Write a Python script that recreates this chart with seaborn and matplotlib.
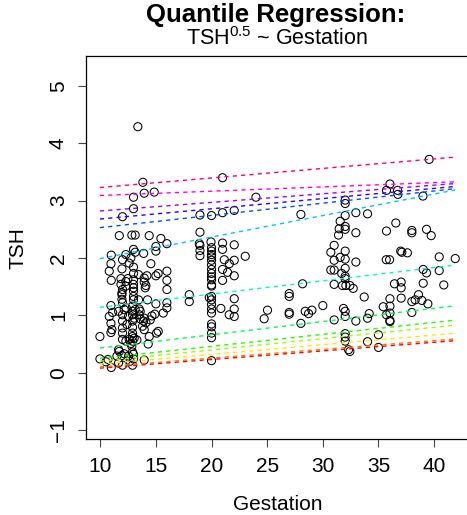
import numpy as np
import pandas as pd
import matplotlib
matplotlib.use("Agg")
import matplotlib.pyplot as plt
import matplotlib.colors as mcolors
import seaborn as sns

gest_early = [13.38, 13.83, 12.99, 13.95, 14.85, 12.99, 12.0, 11.71, 12.84, 13.14,
              14.4, 15.45, 15.99, 15.0, 15.0, 12.99, 10.99, 13.9,
              12.3, 12.0, 12.75, 12.6, 13.14,
              10.96, 10.81, 10.99, 11.95, 12.99, 12.99, 14.55, 15.0, 15.2, 15.99, 15.99, 15.99,
              11.86, 11.86, 12.0, 11.95, 11.95,
              12.99, 12.99, 12.99, 12.99, 12.99, 12.99,
              13.95, 13.95, 14.1, 14.04, 12.3, 12.3,
              14.25, 15.0, 15.99, 15.99, 15.66, 14.9,
              10.96, 11.11, 12.0, 12.15, 12.0,
              12.9, 12.9, 12.9, 13.05, 13.5, 13.5,
              13.95, 14.1, 13.8, 13.95,
              10.81, 10.96, 10.96,
              12.0, 12.0, 12.0, 12.9, 12.9, 12.9,
              14.49, 14.64, 15.06, 15.21, 14.4, 14.31, 9.97,
              12.0, 12.3, 12.6, 12.9, 12.9, 13.05, 12.75,
              11.71, 12.15, 12.9, 12.99,
              9.97, 10.51, 10.99, 12.0, 12.9, 13.95, 12.99,
              13.44, 14.19, 12.48, 11.95, 13.44, 11.65, 12.33, 13.14, 13.59,
              12.54, 13.59, 13.89, 12.4, 11.05, 13.29, 11.65, 12.84, 11.95, 11.5,
              10.69, 12.54, 12.69, 11.65]
tsh_early = [4.29, 3.32, 3.06, 3.13, 3.15, 2.86, 2.72, 2.39, 2.40, 2.40,
             2.39, 2.34, 2.25, 2.20, 2.12, 2.15, 2.05, 2.08,
             2.06, 1.97, 2.00, 1.91, 2.10,
             1.90, 1.77, 1.61, 1.81, 1.84, 1.73, 1.90, 1.69, 1.73, 1.77, 1.61, 1.45,
             1.64, 1.54, 1.45, 1.36, 1.28,
             1.62, 1.54, 1.48, 1.42, 1.33, 1.27,
             1.65, 1.58, 1.52, 1.48, 1.59, 1.51,
             1.27, 1.20, 1.22, 1.13, 1.04, 1.02,
             1.17, 1.05, 1.22, 1.10, 1.01,
             1.16, 1.07, 1.01, 0.95, 1.11, 1.01,
             0.95, 0.87, 0.81, 0.75,
             0.98, 0.86, 0.70,
             0.90, 0.78, 0.69, 0.90, 0.79, 0.69,
             0.92, 0.99, 0.69, 0.72, 0.63, 0.50, 0.63,
             0.58, 0.55, 0.58, 0.63, 0.55, 0.60, 0.51,
             0.37, 0.33, 0.36, 0.32,
             0.24, 0.19, 0.09, 0.13, 0.13, 0.22, 0.24,
             1.71, 1.69, 1.64, 1.39, 1.27, 1.07, 1.13, 1.10, 1.07,
             0.98, 0.94, 0.90, 0.84, 0.75, 0.57, 0.40, 0.46, 0.30, 0.29,
             0.23, 0.29, 0.20, 0.17]

gest_mid = [20.99, 23.99, 18.96, 20.0, 20.99, 22.04, 18.96, 18.9, 18.96, 19.95, 20.0,
            20.99, 20.99, 22.04,
            20.0, 20.0, 20.0, 20.0, 20.0, 20.0, 20.0, 20.0, 20.0, 20.0, 20.0,
            18.96, 18.96, 21.15, 21.6, 22.04, 23.03, 20.99, 21.44, 22.04, 20.99, 18.0, 18.0,
            20.0, 20.0, 20.0, 20.0, 20.0, 19.8, 22.04, 20.84, 22.04, 21.59, 22.04,
            25.03, 24.73,
            20.0, 20.0, 20.0, 20.0, 20.0]
tsh_mid = [3.40, 3.06, 2.75, 2.74, 2.79, 2.83, 2.45, 2.25, 2.22, 2.28, 2.18,
           2.26, 2.15, 2.23,
           2.12, 2.06, 2.02, 1.96, 1.88, 1.80, 1.73, 1.67, 1.62, 1.53, 1.51,
           2.13, 2.04, 1.97, 1.90, 1.96, 2.03, 1.80, 1.75, 1.69, 1.61, 1.36, 1.24,
           1.33, 1.27, 1.19, 1.11, 1.04, 1.31, 1.29, 1.12, 1.11, 1.01, 0.98,
           1.09, 0.94,
           0.85, 0.80, 0.69, 0.61, 0.21]

gest_late = [32.01, 32.01, 28.03, 32.01, 32.97, 34.02, 31.56, 32.01, 32.01, 31.47, 31.41,
             32.97, 31.02, 30.72, 32.01, 31.56, 31.02, 32.01, 32.97, 30.72, 31.02, 32.01,
             31.7, 32.01, 32.01, 31.02, 31.77, 32.07, 32.43, 32.73, 28.18, 26.98, 26.98,
             33.72, 26.98, 26.98, 28.42, 28.72, 29.02, 30.0, 31.86, 32.01, 32.01, 31.02,
             32.97, 34.17, 34.02, 28.03, 32.01, 32.01, 32.01, 34.02, 32.31, 32.43]
tsh_late = [3.01, 2.95, 2.76, 2.74, 2.79, 2.77, 2.64, 2.55, 2.50, 2.51, 2.40,
            2.44, 2.22, 2.10, 2.12, 2.01, 1.96, 1.98, 1.93, 1.79, 1.79, 1.82,
            1.73, 1.68, 1.64, 1.54, 1.52, 1.52, 1.52, 1.47, 1.55, 1.38, 1.33,
            1.32, 1.05, 1.02, 1.07, 1.03, 1.09, 1.17, 1.12, 1.07, 0.98, 0.92,
            0.90, 1.03, 0.95, 0.86, 0.68, 0.62, 0.55, 0.54, 0.40, 0.37]

gest_term = [39.56, 36.03, 35.72, 36.72, 36.75, 39.0, 36.56, 35.72, 38.0, 38.0, 39.32,
             39.74, 37.0, 37.1, 37.6, 35.7, 36.0, 40.46, 41.9, 39.02, 39.32, 40.46,
             36.44, 37.04, 37.04, 39.02, 40.87, 37.04, 36.03, 38.0, 38.3, 38.6, 38.9,
             39.44, 35.43, 36.03, 35.72, 36.03, 36.03, 36.03, 38.0, 35.0, 35.0]
tsh_term = [3.72, 3.29, 3.18, 3.18, 3.11, 3.08, 2.61, 2.47, 2.48, 2.44, 2.50,
            2.39, 2.12, 2.10, 2.09, 1.97, 1.97, 2.02, 1.99, 1.80, 1.74, 1.78,
            1.55, 1.58, 1.48, 1.56, 1.53, 1.30, 1.29, 1.24, 1.27, 1.36, 1.26,
            1.20, 1.15, 1.16, 1.01, 1.04, 0.91, 0.89, 1.05, 0.66, 0.44]

# fitted quantile lines (13 quantiles, lowest first): fit = intercept + slope * gestation
qr_intercept = [-0.070, -0.053, -0.019, 0.003, 0.041, 0.199, 0.909, 1.615,
                2.317, 2.502, 2.670, 3.015, 3.064]
qr_slope = [0.0150, 0.0153, 0.0169, 0.0197, 0.0209, 0.0231, 0.0231, 0.0375,
            0.0213, 0.0178, 0.0150, 0.0075, 0.0166]

x_ticks = [10, 15, 20, 25, 30, 35, 40]
y_ticks = [-1, 0, 1, 2, 3, 4, 5]

pts = pd.DataFrame({
    "Gestation": gest_early + gest_mid + gest_late + gest_term,
    "TSH": tsh_early + tsh_mid + tsh_late + tsh_term,
})

gmin, gmax = pts["Gestation"].min(), pts["Gestation"].max()
rows = []
for i, (a, b) in enumerate(zip(qr_intercept, qr_slope)):
    for g in (gmin, gmax):
        rows.append({"q": i, "Gestation": g, "fit": a + b * g})
fits = pd.DataFrame(rows)

n_q = len(qr_intercept)
rainbow = [mcolors.hsv_to_rgb((i / n_q, 1, 1)) for i in range(n_q)]

sns.set_theme(style="ticks")
plt.rcParams["font.family"] = ["Liberation Sans", "DejaVu Sans"]
plt.rcParams["mathtext.default"] = "regular"
plt.rcParams["text.color"] = "black"
plt.rcParams["xtick.labelcolor"] = "black"
plt.rcParams["ytick.labelcolor"] = "black"

W, H = 467, 515
fig = plt.figure(figsize=(W / 100, H / 100), dpi=100)
left, right, top, bottom = 86, 470.6, 56, 439
ax = fig.add_axes([left / W, 1 - bottom / H, (right - left) / W, (bottom - top) / H])

sns.scatterplot(data=pts, x="Gestation", y="TSH", ax=ax, marker="o", s=34,
                facecolor="none", edgecolor="black", linewidth=0.75, zorder=2)
sns.lineplot(data=fits, x="Gestation", y="fit", hue="q", palette=rainbow,
             legend=False, ax=ax, linewidth=1.0, zorder=3)
for ln in ax.lines:
    ln.set_dashes((3, 3))

ax.set_xlim(8.72, 43.28)
ax.set_ylim(-1.157, 5.523)
ax.set_xticks(x_ticks)
ax.set_yticks(y_ticks)
ax.set_yticklabels([str(v).replace("-", "\u2212") for v in y_ticks],
                   rotation=90, va="center")
ax.tick_params(axis="both", direction="out", length=6, width=0.8,
               color="#444444", labelcolor="black", labelsize=15, pad=7)
for sp in ax.spines.values():
    sp.set_visible(True)
    sp.set_linewidth(0.9)
    sp.set_color("black")
ax.set_xlabel("")
ax.set_ylabel("")

fig.text(278 / W, 1 - 505 / H, "Gestation", ha="center", va="center", fontsize=15)
fig.text(18 / W, 1 - 248 / H, "TSH", ha="center", va="center", fontsize=15, rotation=90)
fig.text(276 / W, 1 - 22 / H, "Quantile Regression:", ha="center", va="baseline",
         fontsize=18.5, fontweight="bold")
fig.text(277 / W, 1 - 45 / H, "TSH$^{0.5}$ ~ Gestation", ha="center", va="baseline",
         fontsize=15.5)

fig.savefig("out.png", dpi=100)
